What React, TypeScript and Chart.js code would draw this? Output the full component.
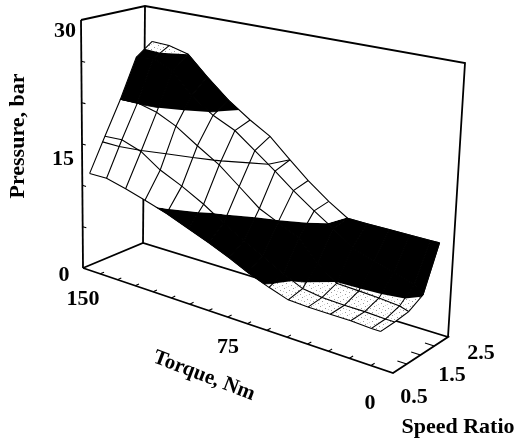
import React, { useEffect, useRef } from "react";
import { Chart, registerables } from "chart.js";

Chart.register(...registerables);

const torqueGrid = [146, 137, 127, 117, 106, 95, 85, 75, 66, 56, 47, 38, 28, 19, 10, 6];
const speedGrid = [0.5, 1.0, 1.5, 2.0, 2.5];
const pressureAtSpeed05 = [11.7, 11.7, 11.1, 10.4, 9.6, 8.6, 7.7, 6.7, 5.7, 4.8, 4.1, 4.0, 4.0, 4.0, 3.9, 3.9];
const pressureAtSpeed10 = [15.6, 15.7, 14.9, 13.3, 12.1, 10.7, 9.2, 7.9, 6.8, 5.5, 4.5, 4.2, 4.1, 4.1, 4.0, 4.0];
const pressureAtSpeed15 = [19.55, 19.6, 19.0, 17.9, 16.2, 14.6, 12.7, 10.8, 9.8, 8.7, 6.5, 4.9, 4.8, 4.7, 4.5, 4.2];
const pressureAtSpeed20 = [24.2, 24.5, 23.5, 21.0, 19.2, 18.0, 16.2, 14.4, 12.7, 11.0, 9.6, 8.0, 7.2, 6.6, 5.9, 5.1];
const pressureAtSpeed25 = [25.7, 25.6, 25.0, 22.7, 20.4, 18.6, 17.2, 15.0, 13.1, 11.3, 9.95, 9.9, 9.9, 9.9, 9.9, 9.9];
const pressureRows = [pressureAtSpeed05, pressureAtSpeed10, pressureAtSpeed15, pressureAtSpeed20, pressureAtSpeed25];

const torqueTicks = [150, 140.6, 131.3, 121.9, 112.5, 103.1, 93.8, 84.4, 75, 65.6, 56.3, 46.9, 37.5, 28.1, 18.8, 9.4, 0];
const speedTicks = [0.5, 1.0, 1.5, 2.0, 2.5];
const pressureTicks = [0, 5, 10, 15, 20, 25, 30];
const bandLevels = [-1, 5, 10, 19.5, 25, 99];
const contourLevel = 15;

const W = 515;
const H = 441;

type V3 = { t: number; s: number; p: number };

function bilinear(a: number, b: number, c: number, d: number, f: number, v: number) {
  return (a * (1 - f) + b * f) * (1 - v) + (c * (1 - f) + d * f) * v;
}

// 3D view of the box onto the canvas
function project(t: number, s: number, p: number) {
  const u = (150 - t) / 150;
  const f = u / (u + 1.14 * (1 - u));
  const v = (s - 0.5) / 2;
  const bx = bilinear(83, 393, 143, 448, f, v);
  const by = bilinear(268, 373, 243, 337, f, v);
  const ox = bilinear(-2, 15, 2, 17, f, v);
  const oy = bilinear(-248, -285, -237, -274, f, v);
  return { x: bx + (ox * p) / 30, y: by + (oy * p) / 30 };
}

const gap = { x: NaN, y: NaN };

function clip(poly: V3[], level: number, keepAbove: boolean): V3[] {
  const out: V3[] = [];
  for (let k = 0; k < poly.length; k++) {
    const a = poly[k];
    const b = poly[(k + 1) % poly.length];
    const ina = keepAbove ? a.p >= level : a.p <= level;
    const inb = keepAbove ? b.p >= level : b.p <= level;
    if (ina) out.push(a);
    if (ina !== inb) {
      const q = (level - a.p) / (b.p - a.p);
      out.push({ t: a.t + (b.t - a.t) * q, s: a.s + (b.s - a.s) * q, p: level });
    }
  }
  return out;
}

function cellAt(i: number, j: number): V3[] {
  const c = (ii: number, jj: number) => ({ t: torqueGrid[ii], s: speedGrid[jj], p: pressureRows[jj][ii] });
  return [c(i, j), c(i + 1, j), c(i + 1, j + 1), c(i, j + 1)];
}

function makeSpecklePattern(): CanvasPattern | string {
  const c = document.createElement("canvas");
  c.width = 9;
  c.height = 9;
  const g = c.getContext("2d");
  if (!g) return "#eee";
  g.fillStyle = "#fff";
  g.fillRect(0, 0, 9, 9);
  g.fillStyle = "#9a9a9a";
  g.fillRect(1, 2, 1, 1);
  g.fillRect(5, 0, 1, 1);
  g.fillRect(7, 4, 1, 1);
  g.fillRect(3, 6, 1, 1);
  g.fillStyle = "#cfcfcf";
  g.fillRect(4, 3, 1, 1);
  g.fillRect(0, 7, 1, 1);
  g.fillRect(7, 8, 1, 1);
  return g.createPattern(c, "repeat") ?? "#eee";
}

const textPlugin = {
  id: "chartText",
  afterDatasetsDraw(chart: Chart) {
    const ctx = chart.ctx;
    const put = (text: string, x: number, y: number, size: number, rot = 0) => {
      ctx.save();
      ctx.translate(x, y);
      ctx.rotate((rot * Math.PI) / 180);
      ctx.font = `bold ${size}px "Liberation Serif"`;
      ctx.fillStyle = "#000";
      ctx.textAlign = "center";
      ctx.textBaseline = "middle";
      ctx.fillText(text, 0, 0);
      ctx.restore();
    };
    put("30", 65, 31, 22);
    put("15", 63, 159, 22);
    put("0", 64, 275, 22);
    put("150", 83, 299, 22);
    put("75", 228, 347, 22);
    put("0", 370, 403, 22);
    put("0.5", 414, 397, 22);
    put("1.5", 452, 375, 22);
    put("2.5", 481, 353, 22);
    put("Pressure, bar", 18, 136, 22, -90);
    put("Torque, Nm", 204, 376, 21, 21);
    put("Speed Ratio", 458, 427, 22);
  },
};

export default function App() {
  const ref = useRef<HTMLCanvasElement>(null);

  useEffect(() => {
    if (!ref.current) return;
    const line = (data: { x: number; y: number }[], width: number) => ({
      data,
      showLine: true,
      borderColor: "#000",
      borderWidth: width,
      pointRadius: 0,
      tension: 0,
      fill: false,
    });

    const paint: any[] = [];

    // box frame behind the surface
    const frame = [
      [[150, 0.5, 30], [150, 0.5, 0]],
      [[150, 0.5, 30], [150, 2.5, 30], [0, 2.5, 30], [0, 2.5, 0]],
      [[150, 2.5, 30], [150, 2.5, 0]],
      [[150, 0.5, 0], [150, 2.5, 0], [0, 2.5, 0], [0, 0.5, 0], [150, 0.5, 0]],
    ];
    frame.forEach((f) => paint.push(line(f.map(([t, s, p]) => project(t, s, p)), 1.8)));

    const ticks: { x: number; y: number }[] = [];
    torqueTicks.slice(1, -1).forEach((t) => ticks.push(project(t, 0.5, 0), project(t, 0.63, 0), gap));
    speedTicks.slice(1, -1).forEach((s) => ticks.push(project(0, s, 0), project(4, s, 0), gap));
    pressureTicks.slice(1, -1).forEach((p) => ticks.push(project(150, 0.5, p), project(148, 0.5, p), gap));
    paint.push(line(ticks, 1.1));

    // surface, filled by pressure band
    const speckle = makeSpecklePattern();
    const bandFill = [speckle, "#000", "#fff", "#000", speckle];
    for (let b = 0; b < bandFill.length; b++) {
      for (let j = 0; j < speedGrid.length - 1; j++) {
        for (let i = 0; i < torqueGrid.length - 1; i++) {
          let poly = clip(cellAt(i, j), bandLevels[b], true);
          if (poly.length) poly = clip(poly, bandLevels[b + 1], false);
          if (poly.length < 3) continue;
          const isBlack = bandFill[b] === "#000";
          paint.push({
            data: poly.map((q) => project(q.t, q.s, q.p)),
            showLine: true,
            backgroundColor: bandFill[b],
            borderColor: isBlack ? "#000" : "rgba(0,0,0,0)",
            borderWidth: isBlack ? 0.8 : 0,
            pointRadius: 0,
            tension: 0,
            fill: "shape",
          });
        }
      }
    }

    // mesh
    speedGrid.forEach((s, j) => {
      paint.push(line(torqueGrid.map((t, i) => project(t, s, pressureRows[j][i])), 1.1));
    });
    torqueGrid.forEach((t, i) => {
      paint.push(line(speedGrid.map((s, j) => project(t, s, pressureRows[j][i])), 1.1));
    });

    // the 15 bar isobar
    const iso: { x: number; y: number }[] = [];
    for (let j = 0; j < speedGrid.length - 1; j++) {
      for (let i = 0; i < torqueGrid.length - 1; i++) {
        const cell = cellAt(i, j);
        const hits: V3[] = [];
        cell.forEach((a, k) => {
          const b = cell[(k + 1) % 4];
          if (a.p < contourLevel !== b.p < contourLevel) {
            const q = (contourLevel - a.p) / (b.p - a.p);
            hits.push({ t: a.t + (b.t - a.t) * q, s: a.s + (b.s - a.s) * q, p: contourLevel });
          }
        });
        if (hits.length >= 2) {
          iso.push(project(hits[0].t, hits[0].s, hits[0].p), project(hits[1].t, hits[1].s, hits[1].p), gap);
        }
      }
    }
    paint.push(line(iso, 1.1));

    const chart = new Chart(ref.current, {
      type: "scatter",
      data: { datasets: paint.reverse() },
      options: {
        animation: false,
        responsive: false,
        layout: { padding: 0 },
        plugins: { legend: { display: false }, tooltip: { enabled: false } },
        scales: {
          x: { type: "linear", min: 0, max: W, display: false },
          y: { type: "linear", min: 0, max: H, reverse: true, display: false },
        },
      },
      plugins: [textPlugin],
    } as any);
    return () => chart.destroy();
  }, []);

  return (
    <canvas
      ref={ref}
      width={W}
      height={H}
      style={{ position: "absolute", left: 0, top: 0, width: W, height: H, display: "block", background: "#fff" }}
    />
  );
}
